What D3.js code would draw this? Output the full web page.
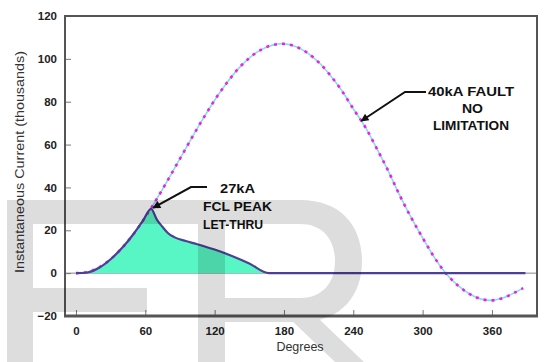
<!DOCTYPE html>
<html>
<head>
<meta charset="utf-8">
<script src="https://cdn.jsdelivr.net/npm/d3@7"></script>
<style>
  html, body { margin: 0; padding: 0; background: #fff; }
  svg { display: block; }
  text { font-family: "Liberation Sans", Arial, sans-serif; }
</style>
</head>
<body>
<svg id="chart" width="556" height="362"></svg>
<script>
// ---- data ----
const faultDeg = [0,10,20,30,40,50,60,70,80,90,100,110,120,130,140,150,160,170,180,190,200,210,220,230,240,250,260,270,280,290,300,310,320,330,340,350,360,370,380,387];
const faultKA  = [0,0.5,2.7,6.5,11.8,18.4,26.1,34.7,43.9,53.4,62.9,72.1,80.7,88.4,95.1,100.4,104.2,106.4,107,105.8,102.9,98.4,92.4,85.2,76.7,68.5,58.5,48,36.5,26,16.5,7.5,0,-5.5,-9.5,-12,-12.7,-11.5,-9,-7];

const fclDeg = [0,10,20,30,40,50,58,65,70,75,80,85,95,105,120,135,150,167,200,250,300,350,389];
const fclKA  = [0,0.3,2.5,6.5,11.8,18.4,24.5,30,25,21.5,18.5,16.8,15,13.5,11,8,4.5,0,0,0,0,0,0];

const xTicks = [0,60,120,180,240,300,360];
const yTicks = [-20,0,20,40,60,80,100,120];

const xLabel = "Degrees";
const yLabel = "Instantaneous Current (thousands)";
const noteFault = ["40kA FAULT", "NO", "LIMITATION"];
const noteFcl = ["27kA", "FCL PEAK", "LET-THRU"];

// ---- layout ----
const L = 65, T = 16, R = 537, B = 316;
const svg = d3.select("#chart");
const x = d3.scaleLinear().domain([-9.5, 399]).range([L, R]);
const y = d3.scaleLinear().domain([-20, 120]).range([B, T]);

// zero reference line
svg.append("line")
  .attr("x1", L).attr("x2", R).attr("y1", y(0)).attr("y2", y(0))
  .attr("stroke", "#888").attr("stroke-width", 1);

const fcl = fclDeg.map((d, i) => [d, fclKA[i]]);
const fault = faultDeg.map((d, i) => [d, faultKA[i]]);

// FCL area
svg.append("path").datum(fcl)
  .attr("d", d3.area().x(d => x(d[0])).y0(y(0)).y1(d => y(d[1])).curve(d3.curveMonotoneX))
  .attr("fill", "#58f6c4");

// Fault curve: cyan line with magenta dots
const faultLine = d3.line().x(d => x(d[0])).y(d => y(d[1])).curve(d3.curveCatmullRom);
svg.append("path").datum(fault)
  .attr("d", faultLine).attr("fill", "none")
  .attr("stroke", "#7fe3e0").attr("stroke-width", 1.6);
svg.append("path").datum(fault)
  .attr("d", faultLine).attr("fill", "none")
  .attr("stroke", "#f01cf0").attr("stroke-width", 2.6)
  .attr("stroke-dasharray", "3,5");

// FCL line
svg.append("path").datum(fcl)
  .attr("d", d3.line().x(d => x(d[0])).y(d => y(d[1])).curve(d3.curveMonotoneX))
  .attr("fill", "none").attr("stroke", "#4d3f96").attr("stroke-width", 2.2)
  .attr("stroke-linejoin", "round");

// axes
const yAxis = d3.axisLeft(y).tickValues(yTicks).tickSizeInner(-6).tickSizeOuter(0).tickPadding(8);
const gy = svg.append("g").attr("transform", `translate(${L},0)`).call(yAxis);
const xAxis = d3.axisBottom(x).tickValues(xTicks).tickSizeInner(-6).tickSizeOuter(0).tickPadding(11);
const gx = svg.append("g").attr("transform", `translate(0,${B})`).call(xAxis);
[gx, gy].forEach(g => {
  g.select(".domain").remove();
  g.selectAll(".tick line").attr("stroke", "#777").attr("stroke-width", 1);
  g.selectAll(".tick text").attr("fill", "#222").attr("font-size", 11.5)
    .attr("font-weight", "bold").attr("font-family", "Liberation Sans, Arial, sans-serif");
});

// frame
svg.append("path")
  .attr("d", `M${L},${B} L${L},${T} L${R},${T} L${R},${B}`)
  .attr("fill", "none").attr("stroke", "#555").attr("stroke-width", 2);
svg.append("line").attr("x1", L - 1).attr("x2", R + 1).attr("y1", B).attr("y2", B)
  .attr("stroke", "#555").attr("stroke-width", 3);

// axis titles
svg.append("text").attr("x", 300).attr("y", 351).attr("text-anchor", "middle")
  .attr("font-size", 12.5).attr("fill", "#333").text(xLabel);
svg.append("text").attr("transform", "translate(24,162) rotate(-90)")
  .attr("text-anchor", "middle").attr("font-size", 12).attr("fill", "#333")
  .attr("textLength", 222).attr("lengthAdjust", "spacingAndGlyphs").text(yLabel);

// annotations
svg.append("defs").append("marker").attr("id", "ah")
  .attr("viewBox", "0 0 10 10").attr("refX", 9).attr("refY", 5)
  .attr("markerWidth", 5).attr("markerHeight", 4).attr("orient", "auto")
  .append("path").attr("d", "M0,0 L10,5 L0,10 Z").attr("fill", "#111");

function note(lines, lefts, widths, y0, dy, ax) {
  lines.forEach((s, i) => {
    svg.append("text").attr("x", lefts[i]).attr("y", y0 + i * dy)
      .attr("font-size", 12).attr("font-weight", "bold").attr("fill", "#111")
      .attr("textLength", widths[i]).attr("lengthAdjust", "spacingAndGlyphs").text(s);
  });
  svg.append("path").attr("d", ax).attr("fill", "none").attr("stroke", "#111")
    .attr("stroke-width", 2).attr("marker-end", "url(#ah)");
}
note(noteFcl, [220, 203, 203], [35, 69, 60], 193, 18,
  `M207,187 L191,187 L${x(65) + 2},${y(30) - 1}`);
note(noteFault, [428, 462, 433], [86, 21, 76], 96, 17,
  `M426,92 L405,92 L${x(246) + 1},${y(71)}`);

// watermark
const wm = [
  "M7,200 H225 V224 H33 V288 H147 V312 H33 V362 H7 Z",
  "M198,200 H225 V362 H198 Z",
  "M225,200 H300 C343,200 362,228 362,261 C362,294 343,322 300,322 H225 V298 H300 C323,298 335,282 335,261 C335,240 323,224 300,224 H225 Z",
  "M289,318 H318 L364,362 H335 Z"
].join(" ");
svg.append("path").attr("d", wm).attr("fill", "#000").attr("fill-opacity", 0.135);
</script>
</body>
</html>
